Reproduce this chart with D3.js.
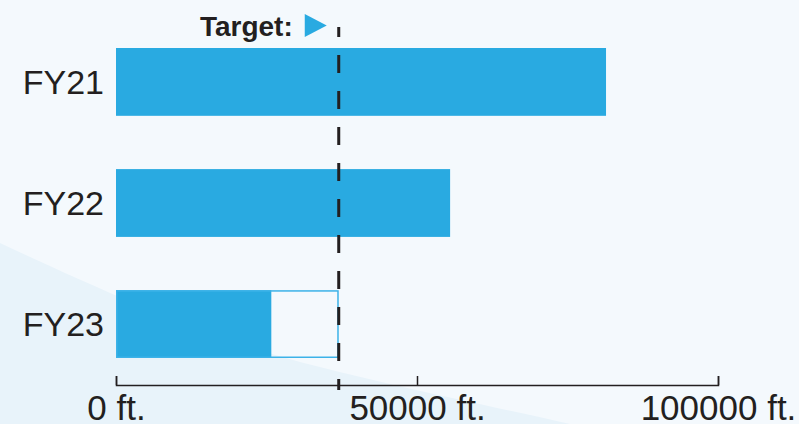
<!DOCTYPE html>
<html>
<head>
<meta charset="utf-8">
<script src="https://cdn.jsdelivr.net/npm/d3@7"></script>
<style>
  html, body { margin: 0; padding: 0; background: #f4f9fd; }
  #root { width: 799px; height: 424px; }
  text { font-family: "Liberation Sans", Arial, sans-serif; fill: #231f20; }
</style>
</head>
<body>
<div id="root"></div>
<script>
const root = document.getElementById('root');

// data
const categories = ['FY21', 'FY22', 'FY23'];
const values = [81400, 55500, 25800];
const target = 37000;
const tickValues = [0, 50000, 100000];

const buildGraph = () => {
    const width = 799;
    const height = 424;
    const barColor = '#29aae1';
    const ink = '#231f20';

    const svg = d3.select(root)
                    .append('svg')
                    .attr('width', width)
                    .attr('height', height);

    // Background
    svg.append('rect')
        .attr('width', width)
        .attr('height', height)
        .attr('fill', '#f4f9fd');
    svg.append('path')
        .attr('d', 'M0,243 C90,285 200,335 300,362 C400,388 500,408 570,424 L0,424 Z')
        .attr('fill', '#e8f3fa');

    // Scales
    const x = d3.scaleLinear()
                .domain([0, 100000])
                .range([116, 718]);
    const y = d3.scaleBand()
                .domain(categories)
                .range([48, 358])
                .paddingInner(0.44)
                .paddingOuter(0);

    // Bars
    svg.selectAll('.bar')
        .data(categories)
        .enter()
        .append('rect')
        .attr('class', 'bar')
        .attr('x', x(0))
        .attr('y', d => y(d))
        .attr('width', (d, i) => x(values[i]) - x(0))
        .attr('height', y.bandwidth())
        .attr('fill', barColor);

    // Remaining to target on the last year
    const last = categories[categories.length - 1];
    svg.append('rect')
        .attr('x', x(0) + 0.75)
        .attr('y', y(last) + 0.75)
        .attr('width', x(target) - x(0) - 1.5)
        .attr('height', y.bandwidth() - 1.5)
        .attr('fill', 'none')
        .attr('stroke', '#3cb2e8')
        .attr('stroke-width', 1.5);

    // Category labels
    svg.selectAll('.cat')
        .data(categories)
        .enter()
        .append('text')
        .attr('class', 'cat')
        .attr('x', 104)
        .attr('y', d => y(d) + y.bandwidth() / 2)
        .attr('dy', '0.36em')
        .attr('text-anchor', 'end')
        .attr('font-size', '34px')
        .text(d => d);

    // X axis
    const xAxis = d3.axisBottom(x)
                    .tickValues(tickValues)
                    .tickSizeInner(-9)
                    .tickSizeOuter(-9)
                    .tickPadding(10)
                    .tickFormat(d => `${d} ft.`);
    const gx = svg.append('g')
        .attr('transform', 'translate(0,385)')
        .call(xAxis);
    gx.select('.domain').attr('stroke', ink).attr('stroke-width', 1.5);
    gx.selectAll('.tick line').attr('stroke', ink).attr('stroke-width', 1.5);
    gx.selectAll('.tick text')
        .attr('font-size', '35px')
        .attr('font-family', '"Liberation Sans", Arial, sans-serif')
        .attr('fill', ink);

    // Target line
    svg.append('line')
        .attr('x1', x(target))
        .attr('x2', x(target))
        .attr('y1', 27)
        .attr('y2', 390)
        .attr('stroke', ink)
        .attr('stroke-width', 3)
        .attr('stroke-dasharray', '18,18')
        .attr('stroke-dashoffset', 8);

    // Target label
    const tx = x(target);
    svg.append('path')
        .attr('d', `M${tx - 34},14 L${tx - 34},37 L${tx - 12},25.5 Z`)
        .attr('fill', barColor);
    svg.append('text')
        .attr('x', tx - 46)
        .attr('y', 36)
        .attr('text-anchor', 'end')
        .attr('font-size', '28px')
        .attr('font-weight', 'bold')
        .text('Target:');
};

buildGraph();
</script>
</body>
</html>
